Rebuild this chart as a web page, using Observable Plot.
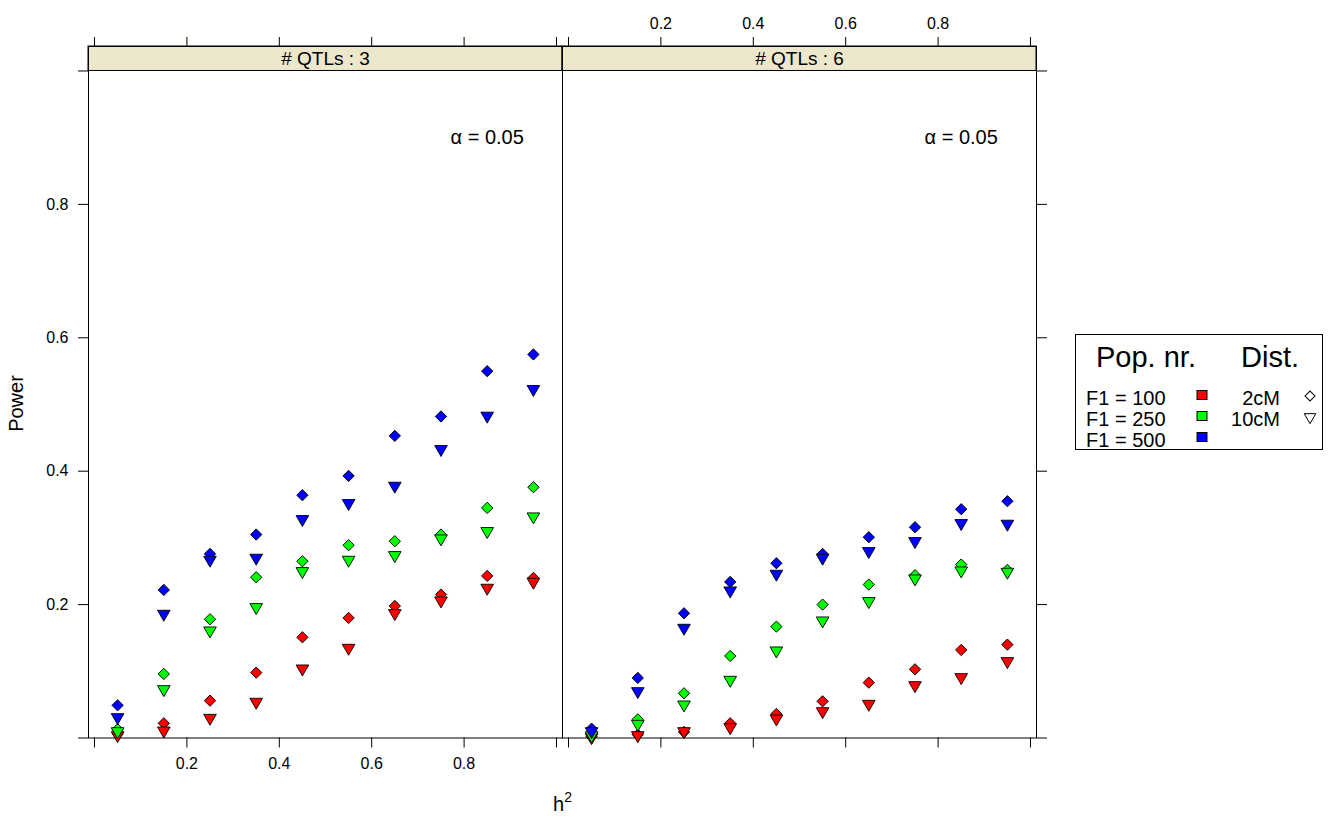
<!DOCTYPE html>
<html>
<head>
<meta charset="utf-8">
<script src="https://cdn.jsdelivr.net/npm/d3@7"></script>
<script src="https://cdn.jsdelivr.net/npm/@observablehq/plot@0.6"></script>
<style>
  body { margin: 0; background: #fff; }
  #wrap { position: relative; width: 1332px; height: 818px; font-family: "Liberation Sans", Arial, sans-serif; }
  #chart { position: absolute; left: 0; top: 0; }
  #overlay { position: absolute; left: 0; top: 0; pointer-events: none; }
</style>
</head>
<body>
<div id="wrap">
  <div id="chart"></div>
  <svg id="overlay" width="1332" height="818"></svg>
</div>
<script>
// ---------------- data ----------------
const h2 = [0.05, 0.15, 0.25, 0.35, 0.45, 0.55, 0.65, 0.75, 0.85, 0.95];
const panels = ["3", "6"];
const popSizes = [100, 250, 500];
const popColors = ["#FF0000", "#00FF00", "#0000FF"];
const dists = ["2cM", "10cM"];
const xTicks = [0, 0.2, 0.4, 0.6, 0.8, 1.0];
const xTickLabels = [0.2, 0.4, 0.6, 0.8];
const yTicks = [0, 0.2, 0.4, 0.6, 0.8, 1.0];
const yTickLabels = [0.2, 0.4, 0.6, 0.8];
const alphaLabel = "\u03B1 = 0.05";

// # QTLs : 3
const q3_F100_2cM  = [0.006, 0.022, 0.056, 0.098, 0.151, 0.180, 0.198, 0.215, 0.243, 0.240];
const q3_F100_10cM = [0.004, 0.011, 0.030, 0.054, 0.104, 0.135, 0.187, 0.206, 0.225, 0.234];
const q3_F250_2cM  = [0.013, 0.096, 0.178, 0.241, 0.265, 0.289, 0.295, 0.305, 0.345, 0.376];
const q3_F250_10cM = [0.010, 0.073, 0.161, 0.196, 0.250, 0.267, 0.274, 0.299, 0.310, 0.332];
const q3_F500_2cM  = [0.049, 0.222, 0.276, 0.305, 0.364, 0.393, 0.453, 0.482, 0.550, 0.575];
const q3_F500_10cM = [0.031, 0.186, 0.267, 0.270, 0.328, 0.352, 0.378, 0.433, 0.483, 0.523];
// # QTLs : 6
const q6_F100_2cM  = [0.002, 0.005, 0.009, 0.022, 0.036, 0.055, 0.083, 0.103, 0.132, 0.140];
const q6_F100_10cM = [0.001, 0.004, 0.010, 0.016, 0.029, 0.040, 0.051, 0.079, 0.091, 0.115];
const q6_F250_2cM  = [0.005, 0.028, 0.067, 0.123, 0.167, 0.200, 0.230, 0.244, 0.260, 0.252];
const q6_F250_10cM = [0.004, 0.021, 0.050, 0.087, 0.131, 0.176, 0.205, 0.239, 0.251, 0.249];
const q6_F500_2cM  = [0.014, 0.090, 0.187, 0.234, 0.262, 0.276, 0.301, 0.316, 0.343, 0.355];
const q6_F500_10cM = [0.010, 0.070, 0.165, 0.221, 0.246, 0.270, 0.280, 0.295, 0.322, 0.321];

const series = [
  {panel: "3", pop: 100, dist: "2cM",  values: q3_F100_2cM},
  {panel: "3", pop: 100, dist: "10cM", values: q3_F100_10cM},
  {panel: "3", pop: 250, dist: "2cM",  values: q3_F250_2cM},
  {panel: "3", pop: 250, dist: "10cM", values: q3_F250_10cM},
  {panel: "3", pop: 500, dist: "2cM",  values: q3_F500_2cM},
  {panel: "3", pop: 500, dist: "10cM", values: q3_F500_10cM},
  {panel: "6", pop: 100, dist: "2cM",  values: q6_F100_2cM},
  {panel: "6", pop: 100, dist: "10cM", values: q6_F100_10cM},
  {panel: "6", pop: 250, dist: "2cM",  values: q6_F250_2cM},
  {panel: "6", pop: 250, dist: "10cM", values: q6_F250_10cM},
  {panel: "6", pop: 500, dist: "2cM",  values: q6_F500_2cM},
  {panel: "6", pop: 500, dist: "10cM", values: q6_F500_10cM}
];

// ---------------- layout ----------------
const X_DOMAIN = [-0.013, 1.013];
const Y_DOMAIN = [0, 1.0367];      // top part (above 1.0) holds the strip
const STRIP_FROM = 1.0;
const ALPHA_AT = {x: 0.85, y: 0.9};
const STRIP_FILL = "#EDE7CB";
const FONT = '"Liberation Sans", Arial, sans-serif';

const rows = [];
for (const s of series) s.values.forEach((v, i) => rows.push({panel: s.panel, h2: h2[i], power: v, pop: s.pop, dist: s.dist}));
const strips = panels.map(p => ({panel: p, label: "# QTLs : " + p}));
const notes = panels.map(p => ({panel: p, label: alphaLabel}));

const chart = Plot.plot({
  width: 1332,
  height: 818,
  marginLeft: 87,
  marginRight: 296,
  marginTop: 46,
  marginBottom: 80.5,
  style: {fontFamily: FONT, fontSize: "16px", background: "transparent", color: "#000"},
  fx: {domain: panels, padding: 0, axis: null, label: null},
  x: {domain: X_DOMAIN, label: null},
  y: {domain: Y_DOMAIN, label: null},
  color: {domain: popSizes, range: popColors, type: "ordinal"},
  marks: [
    Plot.rect(strips, {fx: "panel", y1: () => STRIP_FROM, y2: () => Y_DOMAIN[1], fill: STRIP_FILL, stroke: "black"}),
    Plot.text(strips, {fx: "panel", text: "label", frameAnchor: "top", dy: 5, fontSize: 19}),
    Plot.frame({stroke: "black"}),
    // x axes: ticks on every panel, labels bottom-left and top-right (lattice alternating)
    Plot.axisX(xTicks, {anchor: "bottom", tickSize: 10, tickFormat: () => "", label: null, facetAnchor: "bottom"}),
    Plot.axisX(xTickLabels, {anchor: "bottom", tickSize: 0, tickPadding: 20, tickFormat: d => d.toFixed(1), label: null, facetAnchor: "left", fontSize: 16}),
    Plot.axisX(xTicks, {anchor: "top", tickSize: 10, tickFormat: () => "", label: null, facetAnchor: "top"}),
    Plot.axisX(xTickLabels, {anchor: "top", tickSize: 0, tickPadding: 18, tickFormat: d => d.toFixed(1), label: null, facetAnchor: "right", fontSize: 16}),
    // y axes
    Plot.axisY(yTicks, {anchor: "left", tickSize: 10, tickPadding: 10, tickFormat: d => yTickLabels.includes(d) ? d.toFixed(1) : "", label: null, fontSize: 16}),
    Plot.axisY(yTicks, {anchor: "right", tickSize: 10, tickFormat: () => "", label: null}),
    // annotation
    Plot.text(notes, {fx: "panel", x: () => ALPHA_AT.x, y: () => ALPHA_AT.y, text: "label", fontSize: 20}),
    // points
    Plot.dot(rows.filter(d => d.dist === "2cM"), {fx: "panel", x: "h2", y: "power", fill: "pop", symbol: "square", rotate: 45, r: 4.5, stroke: "black", strokeWidth: 0.9}),
    Plot.dot(rows.filter(d => d.dist === "10cM"), {fx: "panel", x: "h2", y: "power", fill: "pop", symbol: "triangle", rotate: 180, r: 4.7, stroke: "black", strokeWidth: 0.9})
  ]
});
document.getElementById("chart").appendChild(chart);

// ---------------- axis titles & legend (outside the plot area) ----------------
const ov = d3.select("#overlay").attr("font-family", FONT);
ov.append("text").attr("transform", "translate(23,403.5) rotate(-90)").attr("text-anchor", "middle")
  .attr("font-size", 20).text("Power");
const xl = ov.append("text").attr("x", 553).attr("y", 811).attr("font-size", 20);
xl.append("tspan").text("h");
xl.append("tspan").attr("font-size", 14).attr("dy", -9).text("2");

const lg = ov.append("g");
lg.append("rect").attr("x", 1075.5).attr("y", 334.5).attr("width", 247).attr("height", 115)
  .attr("fill", "white").attr("stroke", "black");
lg.append("text").attr("x", 1096).attr("y", 367).attr("font-size", 29).text("Pop. nr.");
lg.append("text").attr("x", 1241).attr("y", 367).attr("font-size", 29).text("Dist.");
popSizes.forEach((p, i) => {
  const yb = 405 + i * 21;
  lg.append("text").attr("x", 1086).attr("y", yb).attr("font-size", 20).text("F1 = " + p);
  lg.append("rect").attr("x", 1197).attr("y", yb - 14.5).attr("width", 10).attr("height", 9)
    .attr("fill", popColors[i]).attr("stroke", "black");
});
const legSym = [
  {type: d3.symbolSquare, size: 50, rot: 45},
  {type: d3.symbolTriangle, size: 58, rot: 180}
];
dists.forEach((d, i) => {
  const yb = 405 + i * 21;
  lg.append("text").attr("x", 1280).attr("y", yb).attr("text-anchor", "end").attr("font-size", 20).text(d);
  lg.append("path").attr("d", d3.symbol(legSym[i].type, legSym[i].size)())
    .attr("transform", `translate(1310,${yb - 9}) rotate(${legSym[i].rot})`)
    .attr("fill", "none").attr("stroke", "black").attr("stroke-width", 1);
});
</script>
</body>
</html>
